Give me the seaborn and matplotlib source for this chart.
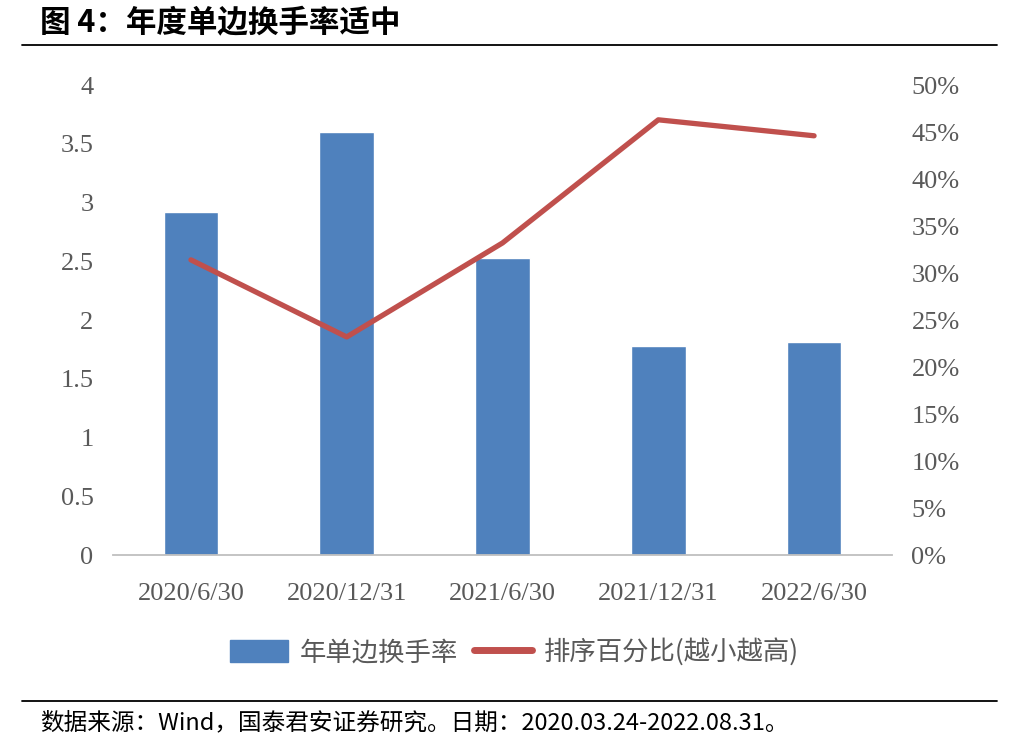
import matplotlib
matplotlib.use("Agg")
import matplotlib.pyplot as plt
import seaborn as sns
import pandas as pd
import numpy as np
from matplotlib.lines import Line2D
from matplotlib.patches import Patch
from matplotlib.ticker import FuncFormatter, MultipleLocator

categories = ["2020/6/30", "2020/12/31", "2021/6/30", "2021/12/31", "2022/6/30"]
turnover = [2.92, 3.60, 2.53, 1.78, 1.81]
rank_pct = [31.4, 23.2, 33.2, 46.3, 44.6]

title = "图 4：年度单边换手率适中"
source = "数据来源：Wind，国泰君安证券研究。日期：2020.03.24-2022.08.31。"
bar_label = "年单边换手率"
line_label = "排序百分比(越小越高)"

sns.set_theme(style="white")
serif = ["Liberation Serif", "Noto Sans CJK SC"]
cjk = ["Noto Sans CJK SC", "DejaVu Sans"]
plt.rcParams['font.family'] = serif

bar_color = "#4F81BD"
line_color = "#C0504D"
text_color = "#595959"

df = pd.DataFrame({"cat": categories, "turnover": turnover, "rank": rank_pct})

fig = plt.figure(figsize=(10.12, 7.42), dpi=100)
ax = fig.add_axes([0.1117, 0.252, 0.7697, 0.6334])
sns.barplot(data=df, x="cat", y="turnover", color=bar_color, width=0.35,
            saturation=1, ax=ax)
ax.set_ylim(0, 4)
ax.set_xlim(-0.5, 4.5)
ax.yaxis.set_major_locator(MultipleLocator(0.5))
ax.yaxis.set_major_formatter(FuncFormatter(lambda v, p: f"{v:g}"))
ax.set_xlabel("")
ax.set_ylabel("")
for s in ["left", "right", "top"]:
    ax.spines[s].set_visible(False)
ax.spines["bottom"].set_color("#BFBFBF")
ax.spines["bottom"].set_linewidth(1.3)
ax.tick_params(axis="y", length=0, labelsize=19, labelcolor=text_color, pad=14)
ax.tick_params(axis="x", which="major", length=0, labelsize=19, labelcolor=text_color, pad=20)
ax.set_xticks(np.arange(-0.5, 5.0, 1.0), minor=True)
ax.tick_params(axis="x", which="minor", length=9, width=1.3, color="#BFBFBF", direction="out")

ax2 = ax.twinx()
sns.lineplot(data=df, x="cat", y="rank", color=line_color, linewidth=3.8,
             ax=ax2, sort=False)
ax2.set_ylim(0, 50)
ax2.yaxis.set_major_locator(MultipleLocator(5))
ax2.yaxis.set_major_formatter(FuncFormatter(lambda v, p: f"{v:.0f}%"))
ax2.set_ylabel("")
ax2.set_xlabel("")
for s in ["left", "right", "top", "bottom"]:
    ax2.spines[s].set_visible(False)
ax2.tick_params(axis="y", length=0, labelsize=19, labelcolor=text_color, pad=14)
ax2.set_xlim(-0.5, 4.5)

handles = [Patch(facecolor=bar_color, edgecolor=bar_color),
           Line2D([0], [0], color=line_color, linewidth=5)]
leg = fig.legend(handles, [bar_label, line_label], loc="center",
                 bbox_to_anchor=(0.508, 0.121), ncol=2, frameon=False,
                 prop={"family": cjk, "size": 19}, handlelength=2.2,
                 handleheight=0.9, columnspacing=0.6, handletextpad=0.45)
for t in leg.get_texts():
    t.set_color(text_color)

fig.text(0.04, 0.968, title, fontsize=22, fontweight="bold", family=cjk,
         ha="left", va="center", color="black")
fig.add_artist(Line2D([0.022, 0.985], [0.94, 0.94], color="black", lw=1.3,
                      transform=fig.transFigure))
fig.add_artist(Line2D([0.022, 0.985], [0.055, 0.055], color="black", lw=1.3,
                      transform=fig.transFigure))
fig.text(0.04, 0.026, source, fontsize=17, family=cjk, ha="left", va="center",
         color="black")

fig.savefig("out.png", dpi=100)
